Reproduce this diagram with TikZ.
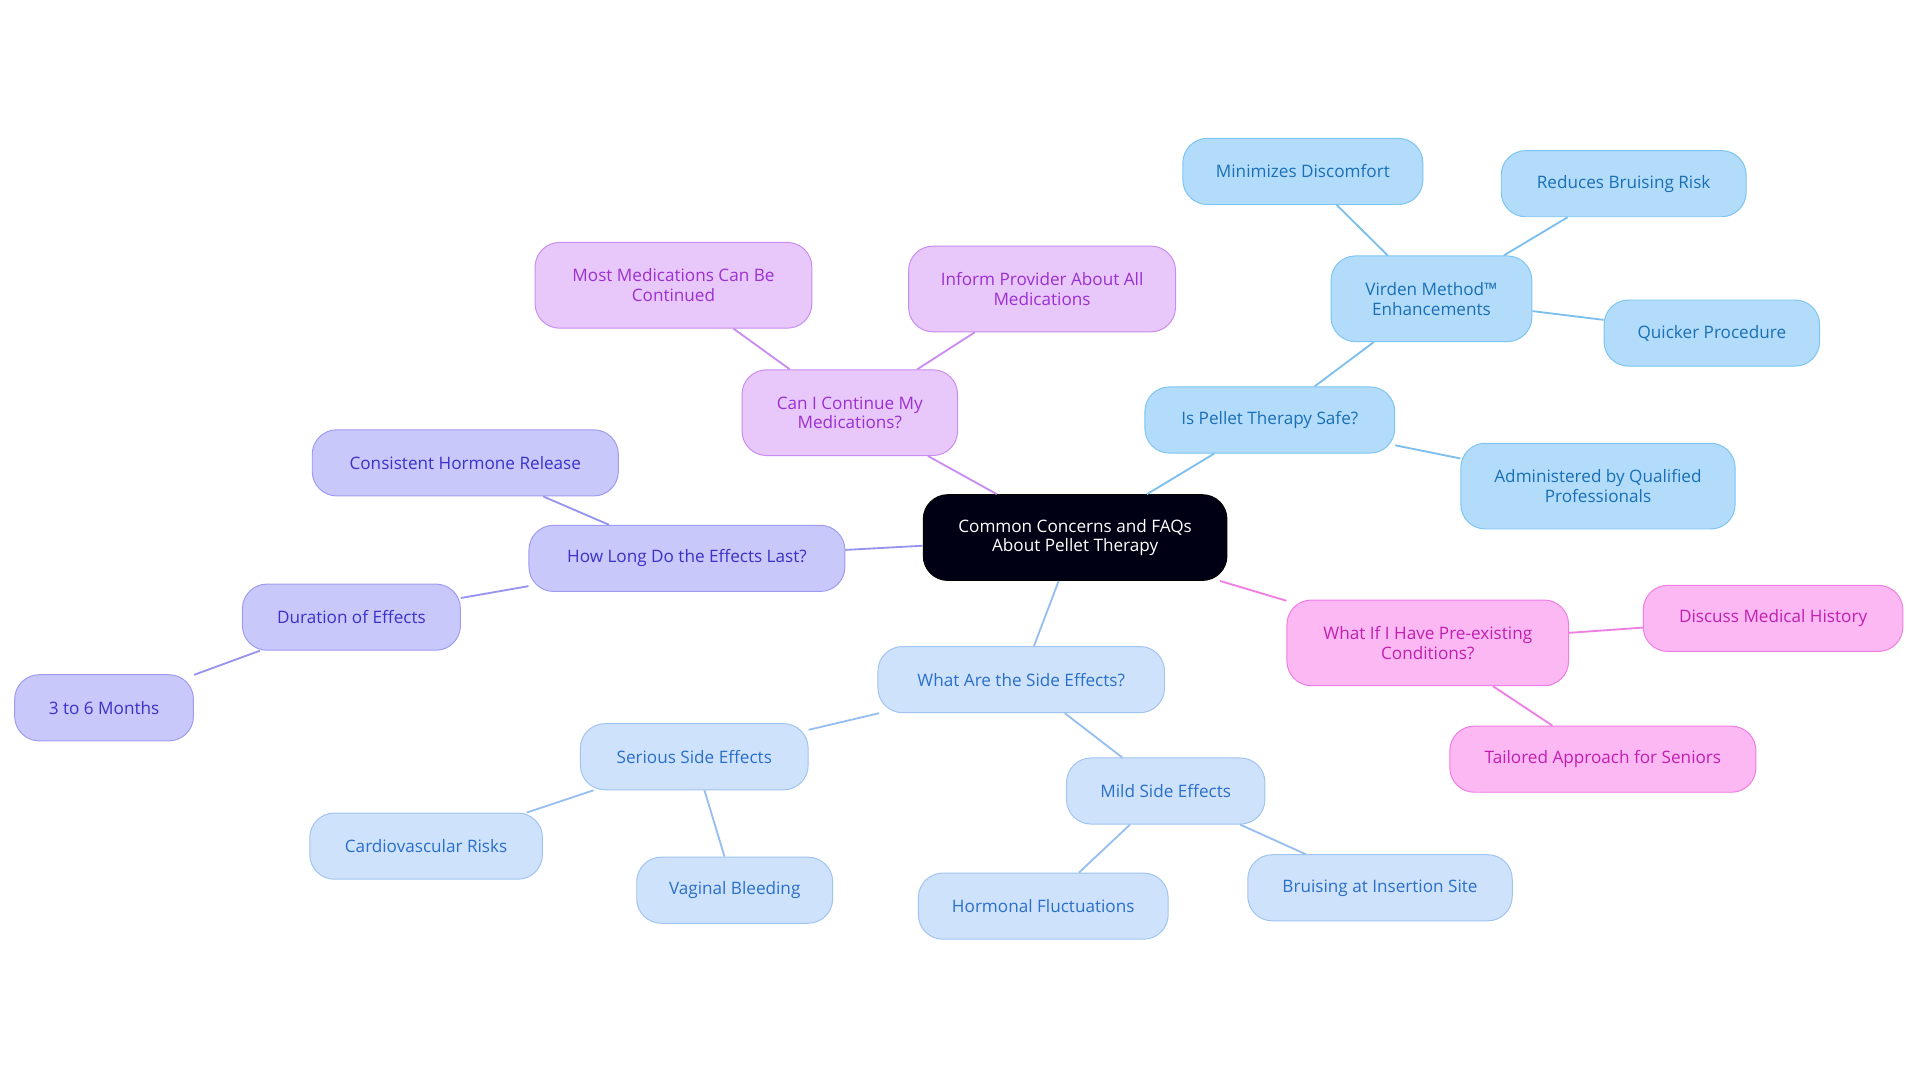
\documentclass[tikz,border=0pt]{standalone}
\usepackage{fontspec}
\setmainfont{Open Sans}
\begin{document}
\begin{tikzpicture}[x=1pt,y=-1pt,
 base/.style={rounded corners=20pt,draw,line width=0.8pt,align=center,inner sep=0pt,font=\fontsize{14}{16}\selectfont},
 cen/.style={base,fill=black!90!blue!80!black,draw=black,text=white},
 blu/.style={base,fill=cyan!25!blue!30!white,draw=cyan!50!blue!50,text=blue!60!cyan!80!black},
 pur/.style={base,fill={rgb,255:red,232;green,200;blue,251},draw={rgb,255:red,201;green,140;blue,240},text={rgb,255:red,155;green,48;blue,208}},
 ind/.style={base,fill={rgb,255:red,201;green,200;blue,251},draw={rgb,255:red,158;green,156;blue,240},text={rgb,255:red,59;green,50;blue,200}},
 pnk/.style={base,fill={rgb,255:red,251;green,184;blue,243},draw={rgb,255:red,240;green,125;blue,227},text={rgb,255:red,194;green,31;blue,176}},
 lbl/.style={base,fill={rgb,255:red,207;green,226;blue,251},draw={rgb,255:red,160;green,196;blue,242},text={rgb,255:red,42;green,111;blue,200}},
 sky/.style={base,fill={rgb,255:red,179;green,220;blue,251},draw={rgb,255:red,124;green,196;blue,242},text={rgb,255:red,26;green,111;blue,181}},
 eb/.style={line width=1.5pt,draw={rgb,255:red,124;green,190;blue,238}},
 ep/.style={line width=1.5pt,draw={rgb,255:red,201;green,140;blue,240}},
 ei/.style={line width=1.5pt,draw={rgb,255:red,150;green,148;blue,238}},
 ek/.style={line width=1.5pt,draw={rgb,255:red,240;green,125;blue,227}},
 el/.style={line width=1.5pt,draw={rgb,255:red,150;green,190;blue,240}},
 wh/.style={minimum width=#1},
]
\useasboundingbox (0,0) rectangle (1568,884);
\def\h{54pt}\def\hh{70pt}
\node[cen,minimum width=248pt,minimum height=\hh] (c) at (878,439) {Common Concerns and FAQs\\About Pellet Therapy};
\node[sky,minimum width=204pt,minimum height=\h] (safe) at (1037,343) {Is Pellet Therapy Safe?};
\node[sky,minimum width=164pt,minimum height=\hh] (vir) at (1169,244) {Virden Method™\\Enhancements};
\node[sky,minimum width=196pt,minimum height=\h] (min) at (1064,140) {Minimizes Discomfort};
\node[sky,minimum width=200pt,minimum height=\h] (red) at (1326,150) {Reduces Bruising Risk};
\node[sky,minimum width=176pt,minimum height=\h] (qui) at (1398,272) {Quicker Procedure};
\node[sky,minimum width=224pt,minimum height=\hh] (adm) at (1305,397) {Administered by Qualified\\Professionals};
\node[pur,minimum width=176pt,minimum height=\hh] (can) at (694,337) {Can I Continue My\\Medications?};
\node[pur,minimum width=226pt,minimum height=\hh] (most) at (550,233) {Most Medications Can Be\\Continued};
\node[pur,minimum width=218pt,minimum height=\hh] (inf) at (851,236) {Inform Provider About All\\Medications};
\node[ind,minimum width=258pt,minimum height=\h] (how) at (561,456) {How Long Do the Effects Last?};
\node[ind,minimum width=250pt,minimum height=\h] (con) at (380,378) {Consistent Hormone Release};
\node[ind,minimum width=178pt,minimum height=\h] (dur) at (287,504) {Duration of Effects};
\node[ind,minimum width=146pt,minimum height=\h] (m36) at (85,578) {3 to 6 Months};
\node[pnk,minimum width=230pt,minimum height=\hh] (pre) at (1166,525) {What If I Have Pre-existing\\Conditions?};
\node[pnk,minimum width=212pt,minimum height=\h] (dis) at (1448,505) {Discuss Medical History};
\node[pnk,minimum width=250pt,minimum height=\h] (tai) at (1309,620) {Tailored Approach for Seniors};
\node[lbl,minimum width=234pt,minimum height=\h] (side) at (834,555) {What Are the Side Effects?};
\node[lbl,minimum width=186pt,minimum height=\h] (ser) at (567,618) {Serious Side Effects};
\node[lbl,minimum width=190pt,minimum height=\h] (car) at (348,691) {Cardiovascular Risks};
\node[lbl,minimum width=160pt,minimum height=\h] (vag) at (600,727) {Vaginal Bleeding};
\node[lbl,minimum width=162pt,minimum height=\h] (mild) at (952,646) {Mild Side Effects};
\node[lbl,minimum width=204pt,minimum height=\h] (hor) at (852,740) {Hormonal Fluctuations};
\node[lbl,minimum width=216pt,minimum height=\h] (bru) at (1127,725) {Bruising at Insertion Site};
\begin{scope}[on background layer/.style={}]
\end{scope}
\draw[eb] (c) -- (safe); \draw[eb] (safe) -- (vir); \draw[eb] (vir) -- (min);
\draw[eb] (vir) -- (red); \draw[eb] (vir) -- (qui); \draw[eb] (safe) -- (adm);
\draw[ep] (c) -- (can); \draw[ep] (can) -- (most); \draw[ep] (can) -- (inf);
\draw[ei] (c) -- (how); \draw[ei] (how) -- (con); \draw[ei] (how) -- (dur); \draw[ei] (dur) -- (m36);
\draw[ek] (c) -- (pre); \draw[ek] (pre) -- (dis); \draw[ek] (pre) -- (tai);
\draw[el] (c) -- (side); \draw[el] (side) -- (ser); \draw[el] (ser) -- (car); \draw[el] (ser) -- (vag);
\draw[el] (side) -- (mild); \draw[el] (mild) -- (hor); \draw[el] (mild) -- (bru);
\end{tikzpicture}
\end{document}
